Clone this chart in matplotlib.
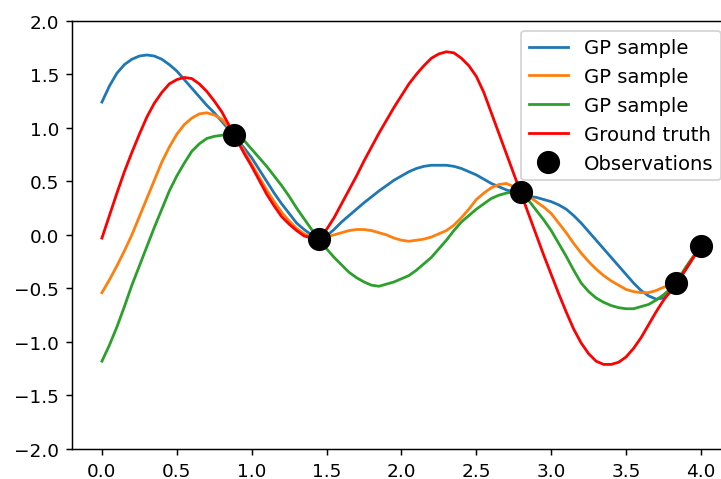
import matplotlib
matplotlib.use("Agg")
import matplotlib.pyplot as plt
import numpy as np

# sample grid (step 0.05) and curve values
x = np.round(np.arange(0, 4.001, 0.05), 2)

gp_blue = [1.24, 1.39, 1.51, 1.59, 1.64, 1.67, 1.68, 1.67, 1.64, 1.59,
           1.53, 1.45, 1.37, 1.29, 1.21, 1.14, 1.06, 0.98, 0.90, 0.81,
           0.72, 0.61, 0.50, 0.39, 0.29, 0.20, 0.11, 0.05, 0.00, -0.03,
           -0.01, 0.05, 0.12, 0.18, 0.24, 0.30, 0.355, 0.41, 0.46, 0.51,
           0.55, 0.59, 0.62, 0.64, 0.65, 0.65, 0.65, 0.64, 0.62, 0.59,
           0.56, 0.52, 0.48, 0.45, 0.42, 0.40, 0.38, 0.36, 0.35, 0.33,
           0.31, 0.28, 0.24, 0.18, 0.11, 0.03, -0.05, -0.13, -0.21, -0.29,
           -0.37, -0.45, -0.52, -0.57, -0.60, -0.59, -0.53, -0.43, -0.32, -0.21,
           -0.10]
gp_orange = [-0.54, -0.42, -0.29, -0.15, 0.00, 0.17, 0.34, 0.51, 0.68, 0.82,
             0.94, 1.03, 1.09, 1.13, 1.14, 1.12, 1.08, 1.00, 0.90, 0.78,
             0.66, 0.54, 0.42, 0.31, 0.21, 0.13, 0.06, 0.01, -0.02, -0.04,
             -0.02, 0.00, 0.02, 0.04, 0.05, 0.05, 0.04, 0.02, 0.00, -0.03,
             -0.05, -0.06, -0.05, -0.04, -0.02, 0.01, 0.04, 0.09, 0.16, 0.24,
             0.33, 0.39, 0.44, 0.47, 0.48, 0.45, 0.40, 0.36, 0.31, 0.26,
             0.20, 0.11, 0.02, -0.08, -0.17, -0.25, -0.32, -0.38, -0.43, -0.47,
             -0.51, -0.53, -0.54, -0.54, -0.52, -0.49, -0.47, -0.42, -0.30, -0.20,
             -0.10]
gp_green = [-1.18, -1.03, -0.86, -0.67, -0.47, -0.29, -0.11, 0.07, 0.24, 0.41,
            0.55, 0.67, 0.78, 0.85, 0.90, 0.92, 0.93, 0.94, 0.93, 0.88,
            0.80, 0.72, 0.64, 0.55, 0.46, 0.36, 0.25, 0.15, 0.05, -0.04,
            -0.13, -0.21, -0.28, -0.35, -0.40, -0.44, -0.47, -0.48, -0.46, -0.44,
            -0.41, -0.38, -0.33, -0.27, -0.21, -0.13, -0.05, 0.04, 0.12, 0.18,
            0.24, 0.29, 0.34, 0.37, 0.39, 0.40, 0.39, 0.32, 0.23, 0.14,
            0.04, -0.08, -0.20, -0.33, -0.45, -0.53, -0.59, -0.63, -0.66, -0.68,
            -0.69, -0.69, -0.67, -0.65, -0.61, -0.56, -0.50, -0.41, -0.30, -0.20,
            -0.10]
ground_truth = [-0.03, 0.18, 0.39, 0.59, 0.77, 0.94, 1.10, 1.23, 1.33, 1.41,
                1.45, 1.47, 1.46, 1.41, 1.34, 1.25, 1.15, 1.02, 0.89, 0.76,
                0.64, 0.51, 0.38, 0.27, 0.17, 0.10, 0.04, -0.01, -0.03, -0.02,
                0.05, 0.16, 0.29, 0.42, 0.55, 0.69, 0.82, 0.95, 1.07, 1.19,
                1.30, 1.41, 1.50, 1.58, 1.65, 1.69, 1.71, 1.70, 1.65, 1.58,
                1.48, 1.33, 1.14, 0.95, 0.76, 0.57, 0.38, 0.19, 0.00, -0.19,
                -0.37, -0.55, -0.72, -0.88, -1.01, -1.11, -1.18, -1.21, -1.21, -1.19,
                -1.14, -1.06, -0.96, -0.84, -0.72, -0.61, -0.52, -0.42, -0.32, -0.21,
                -0.10]

obs_x = [0.88, 1.447, 2.796, 3.836, 4.0]
obs_y = [0.935, -0.04, 0.397, -0.45, -0.10]

fig = plt.figure(figsize=(5.415, 3.6), dpi=133.33)
ax = fig.add_axes([0.0997, 0.0625, 0.9127, 0.8923])

for s in (gp_blue, gp_orange, gp_green):
    ax.plot(x, s, label="GP sample")
ax.plot(x, ground_truth, color="r", label="Ground truth")
ax.plot(obs_x, obs_y, "ko", markersize=11.5, label="Observations")

ax.set_xlim(-0.2, 4.2)
ax.set_ylim(-2, 2)
ax.set_xticks(np.arange(0, 4.01, 0.5))
ax.set_yticks(np.arange(-2, 2.01, 0.5))
ax.legend(loc="upper right", fontsize=10.6)

fig.savefig("out.png", dpi=133.33)
